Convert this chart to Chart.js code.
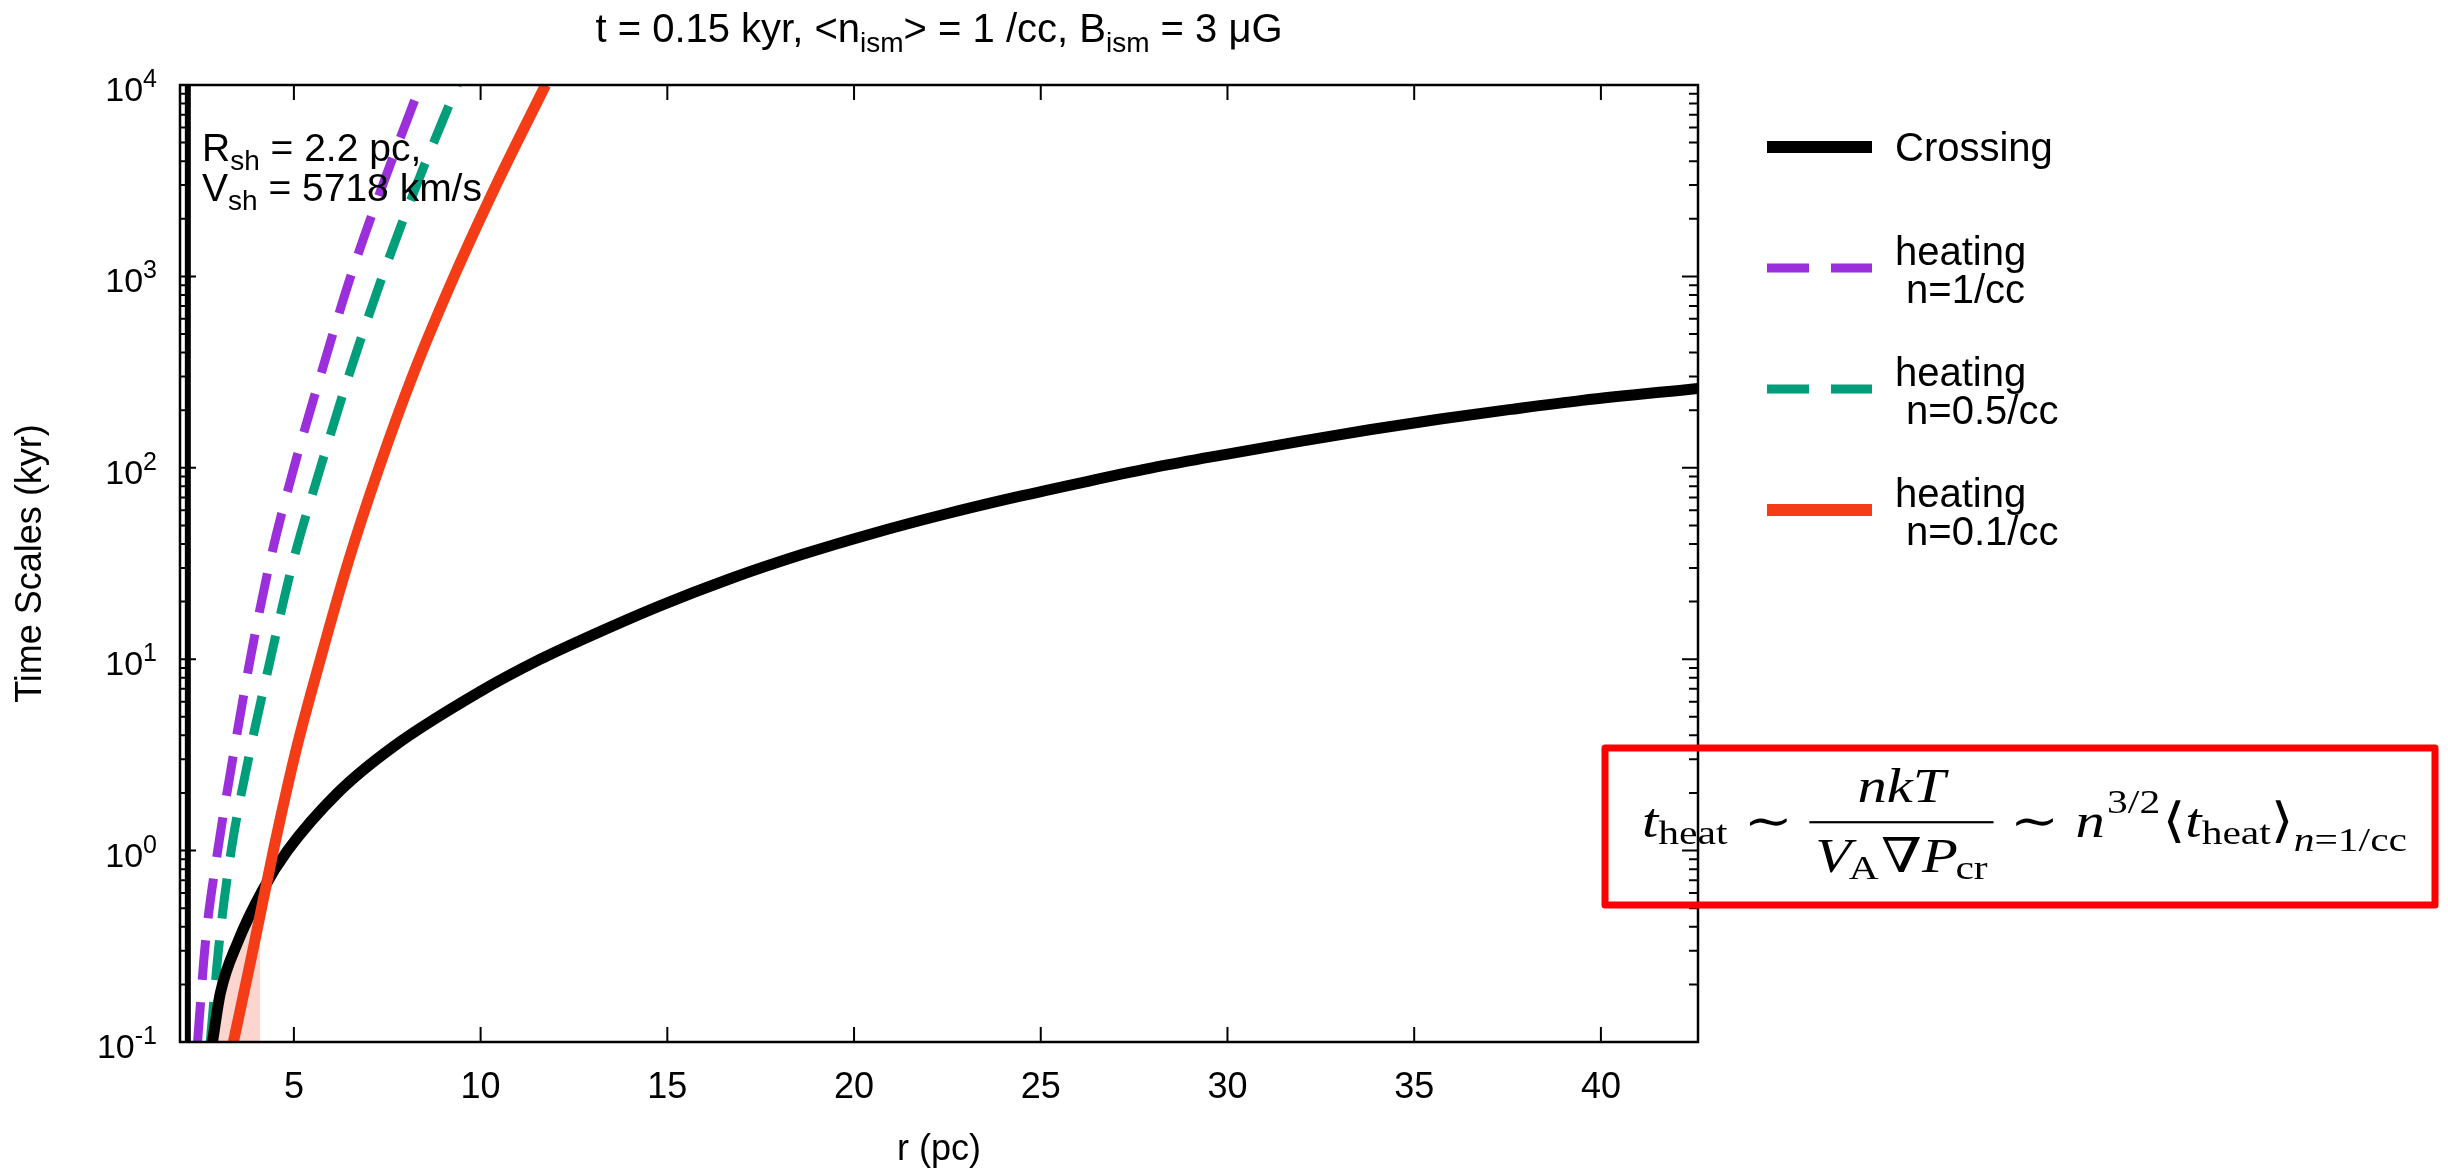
<!DOCTYPE html>
<html>
<head>
<meta charset="utf-8">
<script src="https://cdn.jsdelivr.net/npm/chart.js@4.4.1/dist/chart.umd.min.js"></script>
<style>
  html, body { margin: 0; padding: 0; background: #fff; }
  canvas { display: block; }
</style>
</head>
<body>
<canvas id="c" width="2448" height="1170"></canvas>
<script>
var SANS = '"Liberation Sans", Arial, Helvetica, sans-serif';
var SERIF = '"Liberation Serif", "DejaVu Serif", "Times New Roman", serif';

var BLACK = '#000000';
var PURPLE = '#9b2fdc';
var GREEN = '#009e7a';
var RED = '#f43c16';
var PINK = '#fcd5cf';

// axis ticks
var xTicks = [5, 10, 15, 20, 25, 30, 35, 40];
var yDecades = [-1, 0, 1, 2, 3, 4];

// r (pc) / time (kyr)
var crossingR = [2.82, 3.03, 3.49, 4.18, 4.83, 6.17, 7.67, 10.0, 11.6, 12.7, 14.8, 16.7, 18.6, 20.5, 22.4, 24.3, 26.2, 28.1, 30.0, 31.9, 33.8, 35.7, 37.6, 39.5, 42.6];
var crossingT = [0.1, 0.18, 0.33, 0.63, 1.0, 2.0, 3.5, 6.8, 10, 12.6, 19, 26.4, 35.2, 45.4, 57, 70, 84.5, 101, 118, 137, 158, 180, 202, 225, 260];

var heat1R = [2.42, 2.63, 2.96, 3.36, 3.83, 4.37, 5.0, 5.74, 6.52, 7.42, 8.39];
var heat1T = [0.1, 0.33, 1, 3, 10, 33, 100, 316, 1000, 3160, 10000];

var heat05R = [2.76, 3.0, 3.32, 3.78, 4.37, 4.99, 5.71, 6.5, 7.37, 8.33, 9.38];
var heat05T = [0.1, 0.33, 1, 3, 10, 33, 100, 316, 1000, 3160, 10000];

var heat01R = [3.38, 3.9, 4.45, 5.05, 5.71, 6.45, 7.28, 8.2, 9.29, 10.45, 11.74];
var heat01T = [0.1, 0.3, 1.0, 3.3, 10, 32, 100, 310, 1000, 3100, 10000];

// thick vertical line near the shock radius
var shockR = [2.16, 2.16];
var shockT = [0.1, 10000];

// light shaded patch under the crossing curve
var shadeR = [2.82, 3.03, 3.49, 3.9, 4.1];
var shadeT = [0.1, 0.18, 0.33, 0.485, 0.59];

var legendItems = [
  { lines: ['Crossing'], color: BLACK, dash: [], width: 12 },
  { lines: ['heating', ' n=1/cc'], color: PURPLE, dash: [42, 22], width: 9 },
  { lines: ['heating', ' n=0.5/cc'], color: GREEN, dash: [42, 22], width: 9 },
  { lines: ['heating', ' n=0.1/cc'], color: RED, dash: [], width: 12 }
];

function pts(xs, ys) {
  return xs.map(function (x, i) { return { x: x, y: ys[i] }; });
}

// draws runs of [text, font, dy, extraGapAfter]; returns end x
function runs(c, x, y, parts, measureOnly) {
  parts.forEach(function (p) {
    c.font = p[1];
    if (!measureOnly) c.fillText(p[0], x, y + (p[2] || 0));
    x += c.measureText(p[0]).width + (p[3] || 0);
  });
  return x;
}

// t_heat ~ nkT/(V_A grad P_cr) ~ n^{3/2} <t_heat>_{n=1/cc}
function drawFormula(c, x0, x1, base, F) {
  var s = Math.round(F * 0.7);
  var mi = 'italic ' + F + 'px ' + SERIF, rm = F + 'px ' + SERIF;
  var smi = 'italic ' + s + 'px ' + SERIF, srm = s + 'px ' + SERIF;
  var sub = F * 0.15, sup = -F * 0.5, rel = F * 0.28;
  var left = [['t', mi, 0], ['heat', srm, sub, rel], ['\u223C', rm, 0, rel]];
  var num = [['nkT', mi, 0]];
  var den = [['V', mi, 0, -F * 0.04], ['A', srm, sub, F * 0.04], ['\u2207', rm, 0], ['P', mi, 0, -F * 0.04], ['cr', srm, sub]];
  var right = [['\u223C', rm, 0, rel], ['n', mi, 0, F * 0.04], ['3/2', srm, sup, F * 0.04], ['\u27E8', rm, 0],
               ['t', mi, 0], ['heat', srm, sub], ['\u27E9', rm, 0], ['n', smi, F * 0.3], ['=1/cc', srm, F * 0.3]];
  c.textAlign = 'left';
  c.textBaseline = 'alphabetic';
  var wl = runs(c, 0, 0, left, true);
  var wn = runs(c, 0, 0, num, true);
  var wd = runs(c, 0, 0, den, true);
  var wr = runs(c, 0, 0, right, true);
  var fw = Math.max(wn, wd) + F * 0.2;
  var gap = rel;
  var total = wl + fw + gap + wr;
  var sx = Math.min(1.35, (x1 - x0) / total);
  c.save();
  c.translate((x0 + x1) / 2 - total * sx / 2, 0);
  c.scale(sx, 1);
  var x = runs(c, 0, base, left);
  var bar = base - F * 0.31;
  runs(c, x + (fw - wn) / 2, base - F * 0.73, num);
  runs(c, x + (fw - wd) / 2, base + F * 0.73, den);
  c.fillRect(x, bar - 1, fw, 2.2);
  x += fw + gap;
  runs(c, x, base, right);
  c.restore();
}

var decor = {
  id: 'decor',
  beforeDraw: function (chart) {
    var c = chart.ctx;
    c.save();
    c.fillStyle = '#fff';
    c.fillRect(0, 0, chart.width, chart.height);
    c.restore();
  },
  afterDatasetsDraw: function (chart) {
    var c = chart.ctx, a = chart.chartArea;
    var xs = chart.scales.x, ys = chart.scales.y;
    c.save();
    c.strokeStyle = '#000';
    c.lineWidth = 2;
    c.beginPath();
    xTicks.forEach(function (v) {
      var px = xs.getPixelForValue(v);
      c.moveTo(px, a.bottom); c.lineTo(px, a.bottom - 15);
      c.moveTo(px, a.top); c.lineTo(px, a.top + 15);
    });
    yDecades.forEach(function (e) {
      for (var m = 1; m < 10; m++) {
        var v = m * Math.pow(10, e);
        if (v > 10000.5) break;
        var py = ys.getPixelForValue(v);
        var len = m === 1 ? 16 : 9;
        c.moveTo(a.left, py); c.lineTo(a.left + len, py);
        c.moveTo(a.right, py); c.lineTo(a.right - len, py);
      }
    });
    c.stroke();
    c.lineWidth = 2.5;
    c.strokeRect(a.left, a.top, a.right - a.left, a.bottom - a.top);
    c.restore();
  },
  afterDraw: function (chart) {
    var c = chart.ctx, a = chart.chartArea;
    var xs = chart.scales.x, ys = chart.scales.y;
    var midX = (a.left + a.right) / 2, midY = (a.top + a.bottom) / 2;
    c.save();
    c.fillStyle = '#000';
    c.textBaseline = 'alphabetic';

    // title
    var F = 40, FS = 28;
    var title = [['t = 0.15 kyr, <n', F + 'px ' + SANS, 0], ['ism', FS + 'px ' + SANS, 10],
                 ['> = 1 /cc, B', F + 'px ' + SANS, 0], ['ism', FS + 'px ' + SANS, 10],
                 [' = 3 \u03BCG', F + 'px ' + SANS, 0]];
    var tw = runs(c, 0, 0, title, true);
    runs(c, midX - tw / 2, 42, title);

    // x tick labels
    c.font = '36px ' + SANS;
    c.textAlign = 'center';
    xTicks.forEach(function (v) {
      c.fillText(String(v), xs.getPixelForValue(v), a.bottom + 56);
    });
    c.fillText('r (pc)', midX, a.bottom + 118);

    // y tick labels 10^e
    c.textAlign = 'left';
    yDecades.forEach(function (e) {
      var py = ys.getPixelForValue(Math.pow(10, e));
      var parts = [['10', '34px ' + SANS, 16], [String(e), '25px ' + SANS, 2]];
      var w = runs(c, 0, 0, parts, true);
      runs(c, a.left - 23 - w, py, parts);
    });

    // y title
    c.save();
    c.translate(31, midY);
    c.rotate(-Math.PI / 2);
    c.textAlign = 'center';
    c.textBaseline = 'middle';
    c.font = '36px ' + SANS;
    c.fillText('Time Scales (kyr)', 0, 0);
    c.restore();

    // shock info
    c.textAlign = 'left';
    runs(c, a.left + 22, a.top + 76, [['R', '39px ' + SANS, 0], ['sh', '28px ' + SANS, 9], [' = 2.2 pc,', '39px ' + SANS, 0]]);
    runs(c, a.left + 22, a.top + 116, [['V', '39px ' + SANS, 0], ['sh', '28px ' + SANS, 9], [' = 5718 km/s', '39px ' + SANS, 0]]);

    // legend
    var lx0 = a.right + 69, lx1 = a.right + 174, tx = a.right + 197;
    legendItems.forEach(function (it, i) {
      var y = a.top + 62 + i * 121;
      c.save();
      c.strokeStyle = it.color;
      c.lineWidth = it.width;
      c.setLineDash(it.dash);
      c.beginPath();
      c.moveTo(lx0, y); c.lineTo(lx1, y);
      c.stroke();
      c.restore();
      c.font = '40px ' + SANS;
      c.textBaseline = 'middle';
      if (it.lines.length === 1) {
        c.fillText(it.lines[0], tx, y + 3);
      } else {
        c.fillText(it.lines[0], tx, y - 14);
        c.fillText(it.lines[1], tx, y + 24);
      }
      c.textBaseline = 'alphabetic';
    });

    // formula box
    c.strokeStyle = '#ff0000';
    c.lineWidth = 7;
    c.lineJoin = 'round';
    c.strokeRect(1605, 748, 830, 157);
    drawFormula(c, 1642, 2407, 837, 48);
    c.restore();
  }
};

var lineBase = { pointRadius: 0, fill: false, clip: 0, cubicInterpolationMode: 'monotone' };

function ds(label, xs, ys, color, width, dash) {
  return Object.assign({}, lineBase, {
    label: label, data: pts(xs, ys), borderColor: color, borderWidth: width,
    borderDash: dash || [], borderCapStyle: 'butt'
  });
}

new Chart(document.getElementById('c'), {
  type: 'line',
  data: {
    datasets: [
      ds('heating n=0.1/cc', heat01R, heat01T, RED, 11),
      ds('Crossing', crossingR, crossingT, BLACK, 11),
      ds('heating n=0.5/cc', heat05R, heat05T, GREEN, 9, [40, 22]),
      ds('heating n=1/cc', heat1R, heat1T, PURPLE, 9, [40, 22]),
      Object.assign(ds('shock', shockR, shockT, BLACK, 6), { cubicInterpolationMode: 'default', tension: 0 }),
      Object.assign(ds('shade', shadeR, shadeT, PINK, 0), { fill: 'start', backgroundColor: PINK, cubicInterpolationMode: 'default', tension: 0 })
    ]
  },
  options: {
    responsive: false,
    animation: false,
    devicePixelRatio: 1,
    layout: { padding: { left: 180, top: 85, right: 750, bottom: 128 } },
    scales: {
      x: { type: 'linear', display: false, min: 1.95, max: 42.6 },
      y: { type: 'logarithmic', display: false, min: 0.1, max: 10000 }
    },
    plugins: { legend: { display: false }, tooltip: { enabled: false } }
  },
  plugins: [decor]
});
</script>
</body>
</html>
